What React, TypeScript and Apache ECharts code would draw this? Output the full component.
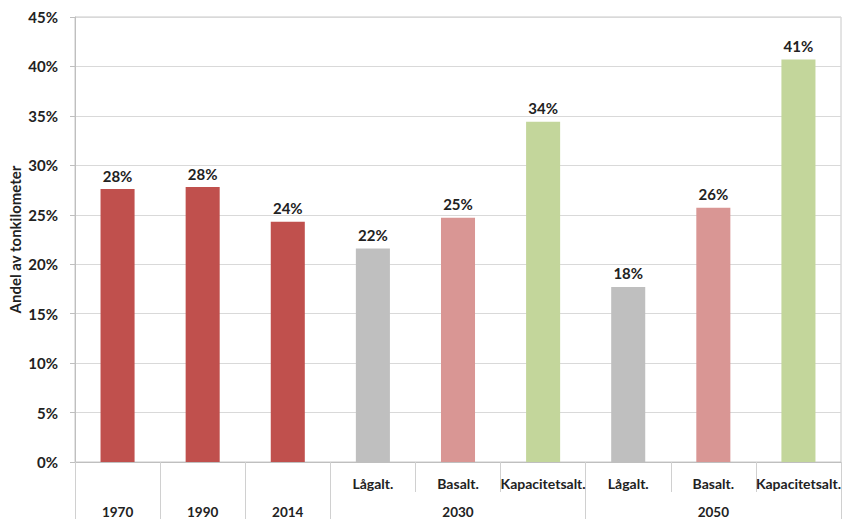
import React, { useEffect, useRef } from "react";
import * as echarts from "echarts";

const subLabels = ["", "", "", "Lågalt.", "Basalt.", "Kapacitetsalt.", "Lågalt.", "Basalt.", "Kapacitetsalt."];
const groupLabels = ["1970", "1990", "2014", "", "2030", "", "", "2050", ""];
const groupTickIdx = [0, 1, 2, 3, 6, 9];
const values = [27.6, 27.8, 24.3, 21.6, 24.7, 34.4, 17.7, 25.7, 40.7];
const valueLabels = ["28%", "28%", "24%", "22%", "25%", "34%", "18%", "26%", "41%"];
const barColors = ["#C0504D", "#C0504D", "#C0504D", "#BFBFBF", "#D99694", "#C3D69B", "#BFBFBF", "#D99694", "#C3D69B"];
const yTitle = "Andel av tonkilometer";

const FONT = "Lato, 'Open Sans', sans-serif";

export default function App() {
  const ref = useRef<HTMLDivElement>(null);
  useEffect(() => {
    if (!ref.current) return;
    const chart = echarts.init(ref.current, undefined, { renderer: "svg" });
    chart.setOption({
      animation: false,
      backgroundColor: "#ffffff",
      grid: {
        left: 75,
        right: 10,
        top: 17,
        bottom: 57,
        outerBoundsMode: "none",
        containLabel: false,
        show: true,
        borderColor: "#C8C8C8",
        borderWidth: 1,
      },
      xAxis: [
        {
          type: "category",
          data: subLabels,
          position: "bottom",
          axisLine: { lineStyle: { color: "#BFBFBF" } },
          axisTick: { show: true, length: 30, lineStyle: { color: "#D0D0D0" } },
          axisLabel: {
            interval: 0,
            margin: 14,
            fontFamily: FONT,
            fontWeight: "bold",
            fontSize: 14,
            color: "#222",
          },
        },
        {
          type: "category",
          data: groupLabels,
          position: "bottom",
          offset: 0,
          axisLine: { show: false },
          axisTick: {
            show: true,
            length: 57,
            interval: (idx: number) => groupTickIdx.indexOf(idx) >= 0,
            lineStyle: { color: "#D0D0D0" },
          },
          axisLabel: {
            interval: 0,
            margin: 43,
            fontFamily: FONT,
            fontWeight: "bold",
            fontSize: 13.5,
            color: "#222",
          },
        },
      ],
      yAxis: {
        type: "value",
        min: 0,
        max: 45,
        interval: 5,
        name: yTitle,
        nameLocation: "middle",
        nameGap: 53,
        nameMoveOverlap: false,
        nameTextStyle: { fontFamily: FONT, fontWeight: "bold", fontSize: 15, color: "#222" },
        axisLine: { show: true, lineStyle: { color: "#BFBFBF" } },
        axisTick: { show: true, length: 5, lineStyle: { color: "#BFBFBF" } },
        axisLabel: {
          formatter: (v: number) => v + "%",
          margin: 17,
          fontFamily: FONT,
          fontWeight: "bold",
          fontSize: 15,
          color: "#222",
        },
        splitLine: { lineStyle: { color: "#D9D9D9" } },
      },
      series: [
        {
          type: "bar",
          xAxisIndex: 0,
          barWidth: "40%",
          data: values.map((v, i) => ({ value: v, itemStyle: { color: barColors[i] } })),
          label: {
            show: true,
            position: "top",
            distance: 6,
            formatter: (p: any) => valueLabels[p.dataIndex],
            fontFamily: FONT,
            fontWeight: "bold",
            fontSize: 15,
            color: "#222",
          },
        },
      ],
    });
    return () => chart.dispose();
  }, []);
  return (
    <div
      ref={ref}
      style={{ position: "absolute", left: 0, top: 0, width: 851, height: 519 }}
    />
  );
}
